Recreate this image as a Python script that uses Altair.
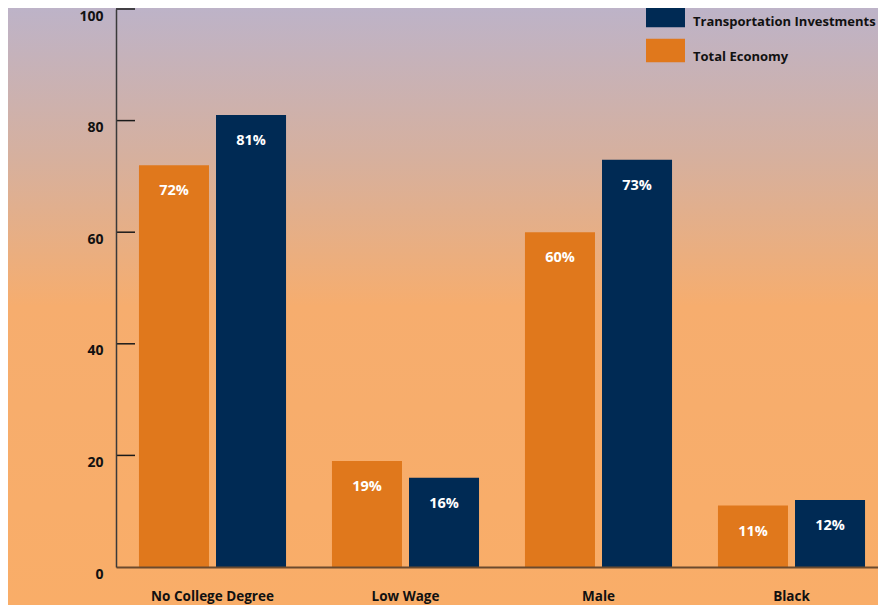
import altair as alt
import pandas as pd

categories = ["No College Degree", "Low Wage", "Male", "Black"]
total_economy = [72, 19, 60, 11]
transportation = [81, 16, 73, 12]
series = ["Transportation Investments", "Total Economy"]
series_colors = ["#002A54", "#E0781C"]
y_ticks = [0, 20, 40, 60, 80, 100]

rows = []
for c, t, tr in zip(categories, total_economy, transportation):
    rows.append({"category": c, "series": "Total Economy", "value": t})
    rows.append({"category": c, "series": "Transportation Investments", "value": tr})
df = pd.DataFrame(rows)

FONT = "Open Sans"
W, H = 762, 558
PAD_L, PAD_T, PAD_B, PAD_R = 108, 1, 38, 0
BAND_SPAN = 772

bg = alt.Chart(pd.DataFrame({"k": [0]})).mark_rect(
    color=alt.Gradient(
        gradient="linear",
        stops=[
            alt.GradientStop(color="#BDB3C8", offset=0),
            alt.GradientStop(color="#D6B09E", offset=0.25),
            alt.GradientStop(color="#F6AD6E", offset=0.5),
            alt.GradientStop(color="#F9AD68", offset=1),
        ],
        x1=0, x2=0, y1=0, y2=1,
    ),
    clip=False,
).encode(
    x=alt.value(-PAD_L),
    x2=alt.value(W + PAD_R + 10),
    y=alt.value(-PAD_T),
    y2=alt.value(H + PAD_B),
)

x_enc = alt.X(
    "category:N",
    sort=categories,
    scale=alt.Scale(paddingInner=0.238, paddingOuter=0.119, range=[0, BAND_SPAN]),
    axis=alt.Axis(
        title=None, labelAngle=0, ticks=False, labelPadding=22,
        labelFont=FONT, labelFontSize=13.5, labelFontWeight="bold", labelColor="#111111",
        domainColor="#6B4A2E", domainWidth=2, zindex=1,
    ),
)
y_enc = alt.Y(
    "value:Q",
    scale=alt.Scale(domain=[0, 100], nice=False),
    axis=alt.Axis(
        title=None, values=y_ticks, ticks=False, grid=False, labelPadding=13, labelOffset=7,
        labelFont=FONT, labelFontSize=14, labelFontWeight="bold", labelColor="#111111",
        domainColor="#3A3A3A", domainWidth=1.5, zindex=1,
    ),
)
xoff = alt.XOffset(
    "series:N",
    sort=["Total Economy", "Transportation Investments"],
    scale=alt.Scale(paddingInner=0.091, paddingOuter=0),
)

bars = alt.Chart(df).mark_bar().encode(
    x=x_enc,
    y=y_enc,
    xOffset=xoff,
    color=alt.Color(
        "series:N",
        scale=alt.Scale(domain=series, range=series_colors),
        legend=alt.Legend(
            title=None, orient="none", legendX=530, legendY=-13,
            symbolType="M-1,-0.6H1V0.6H-1Z", symbolSize=1521, symbolStrokeWidth=0,
            symbolOpacity=1, labelFont=FONT, labelFontSize=13, labelFontWeight="bold",
            labelColor="#111111", labelOffset=8, rowPadding=2, labelBaseline="top",
            labelLimit=400, padding=0,
        ),
    ),
)

labels = alt.Chart(df).transform_calculate(
    label="datum.value + '%'"
).mark_text(
    font=FONT, fontSize=14.5, fontWeight="bold", color="white", baseline="middle", dy=26
).encode(
    x=alt.X("category:N", sort=categories),
    y=alt.Y("value:Q"),
    xOffset=alt.XOffset("series:N", sort=["Total Economy", "Transportation Investments"]),
    text="label:N",
)

ticks = alt.Chart(pd.DataFrame({"t": y_ticks[1:]})).mark_rule(
    color="#1A1A1A", strokeWidth=1.5
).encode(
    y=alt.Y("t:Q"),
    x=alt.value(0),
    x2=alt.value(19),
)

chart = alt.layer(bg, ticks, bars, labels).properties(
    width=W, height=H,
    autosize=alt.AutoSizeParams(type="none"),
    padding={"left": PAD_L, "top": PAD_T, "bottom": PAD_B, "right": PAD_R},
    background="white",
).configure_view(stroke=None)

chart.save("out.html", embed_options={"renderer": "svg", "actions": False})
